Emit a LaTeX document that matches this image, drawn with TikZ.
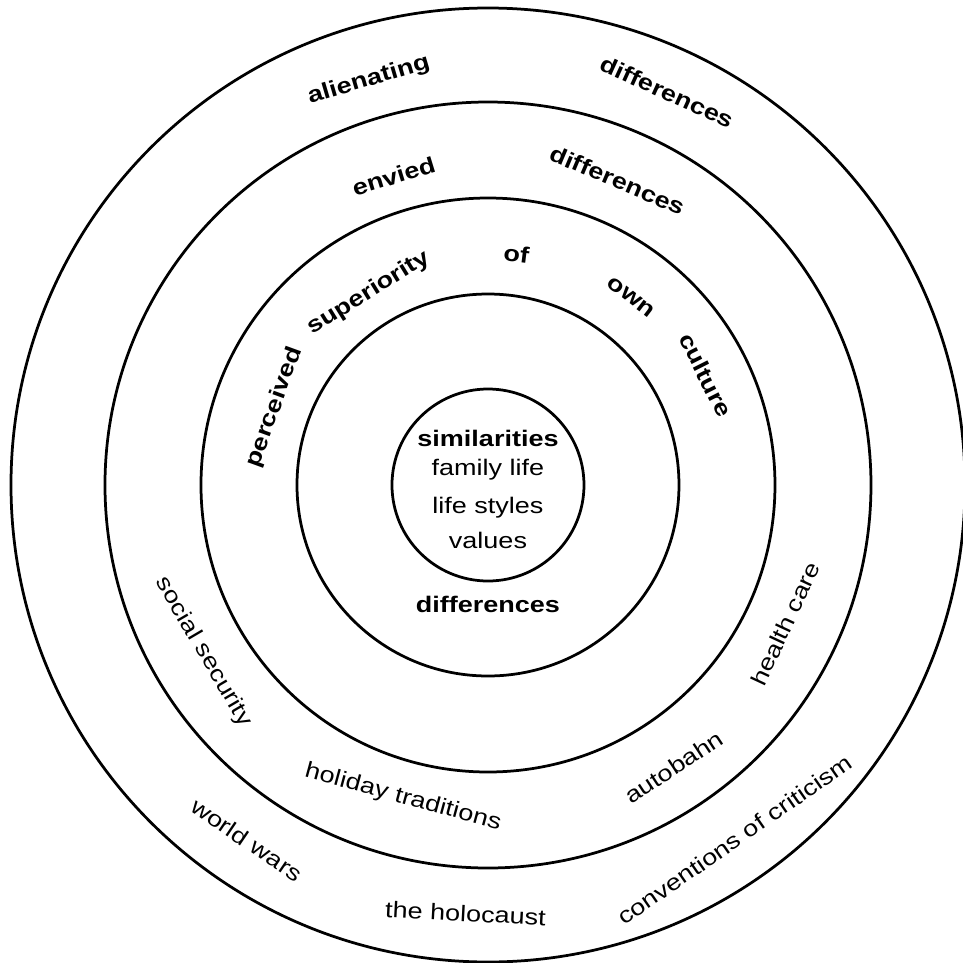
\documentclass[tikz,border=0pt]{standalone}
\usepackage{fontspec}
\setmainfont{Liberation Sans}[FakeStretch=1.2]
\usetikzlibrary{positioning}

\tikzset{
	ring/.style={line width=1.1pt},
	topword/.style={font=\fontsize{9}{11}\selectfont\bfseries},
	lowword/.style={font=\fontsize{9}{11}\selectfont},
}

\begin{document}
\begin{tikzpicture}[x=0.4pt,y=0.4pt]
\useasboundingbox (-488,-478) rectangle (475,485);

\coordinate (o) at (0,0);
\foreach[count=\c] \r in {96,191,287,383,477}
	\draw[ring](o) circle[radius=\r];

% words above the centre, bold
\foreach[count=\c] \w/\a/\r in {alienating/106.4/422,differences/65.5/432,envied/107/323,differences/67/331,of/83/233,superiority/121.8/226,own/52.7/236,culture/26.8/244,perceived/160/227}
	\node[topword,rotate={\a-90}](up\c) at (\a:\r) {\w};

% words below the centre
\foreach[count=\c] \w/\a/\r in {social security/210.4/330,holiday traditions/254.8/324,autobahn/303.4/338,health care/335/328,world wars/235.8/429,the holocaust/267/429,conventions of criticism/304.8/432}
	\node[lowword,rotate={\a+90}](low\c) at (\a:\r) {\w};

% inner circle
\node[topword,anchor=base](sim) at (0,39) {similarities};
\node[lowword,anchor=base](fam) at (0,10) {family life};
\node[lowword,anchor=base](sty) at (0,-28) {life styles};
\node[lowword,anchor=base](val) at (0,-63) {values};
\node[topword,anchor=base](diff) at (0,-127) {differences};
\end{tikzpicture}
\end{document}
